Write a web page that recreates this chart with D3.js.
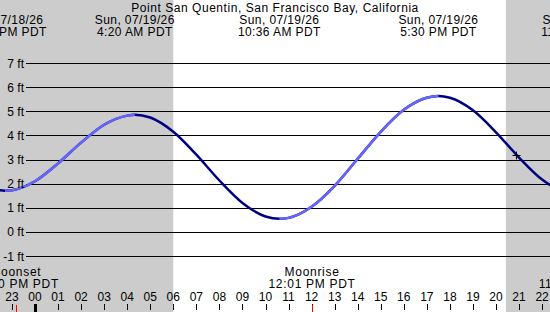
<!DOCTYPE html>
<html>
<head>
<meta charset="utf-8">
<script src="https://cdn.jsdelivr.net/npm/d3@7"></script>
<style>
  html, body { margin: 0; padding: 0; background: #fff; }
  svg { display: block; }
  text { font-family: "Liberation Sans", Arial, sans-serif; font-size: 12px; fill: #000; }
  .title { letter-spacing: 0.55px; }
  .ext text { letter-spacing: 0.4px; }
  .moon text { letter-spacing: 0.7px; }
</style>
</head>
<body>
<div id="chart"></div>
<script>
// dati (ore relative alla mezzanotte del 19/07, piedi)
const hours = [-2, -1, 0, 1, 2, 3, 4, 5, 6, 7, 8, 9, 10, 11, 12, 13, 14, 15, 16, 17, 18, 19, 20, 21, 22, 23];
const heights = [1.82, 1.75, 2.12, 2.86, 3.72, 4.46, 4.84, 4.76, 4.17, 3.22, 2.15, 1.22, 0.66, 0.60, 1.06, 1.93, 3.05, 4.17, 5.08, 5.58, 5.58, 5.06, 4.15, 3.10, 2.19, 1.67];

// estremi di marea
const extremeHours = [-1.3, 4.33, 10.6, 17.5, 23.75];
const extremeHeights = [1.73, 4.88, 0.56, 5.65, 1.6];
const extremeDates = ["Sat, 07/18/26", "Sun, 07/19/26", "Sun, 07/19/26", "Sun, 07/19/26", "Sun, 07/19/26"];
const extremeTimes = ["10:42 PM PDT", "4:20 AM PDT", "10:36 AM PDT", "5:30 PM PDT", "11:45 PM PDT"];

// luna
const moonHours = [-0.83, 12.02, 23.72];
const moonNames = ["Moonset", "Moonrise", "Moonset"];
const moonTimes = ["11:10 PM PDT", "12:01 PM PDT", "11:43 PM PDT"];

// sole (zone grigie = notte)
const sunrise = 6.0;
const sunset = 20.43;

const nowHour = 20.88;
const nowHeight = 3.19;

const feetTicks = [-1, 0, 1, 2, 3, 4, 5, 6, 7];
const hourTicks = d3.range(-1, 23);

const width = 550;
const height = 312;

const svg = d3.select("#chart")
    .append("svg")
    .attr("width", width)
    .attr("height", height);

const x = d3.scaleLinear().domain([0, 22]).range([35, 35 + 22 * 23.05]);
const y = d3.scaleLinear().domain([-1, 7]).range([256.5, 63.5]);

// notte
svg.append("rect").attr("x", 0).attr("y", 0)
    .attr("width", x(sunrise)).attr("height", height).attr("fill", "#cccccc");
svg.append("rect").attr("x", x(sunset)).attr("y", 0)
    .attr("width", width - x(sunset)).attr("height", height).attr("fill", "#cccccc");

// linee della griglia
svg.selectAll(".grid")
    .data(feetTicks)
    .join("line")
    .attr("class", "grid")
    .attr("x1", 26).attr("x2", width)
    .attr("y1", d => Math.round(y(d) - 0.5) + 0.5)
    .attr("y2", d => Math.round(y(d) - 0.5) + 0.5)
    .attr("stroke", "#000")
    .attr("stroke-width", 1);

// curva della marea
const points = hours.map((h, i) => [h, heights[i]]);
extremeHours.forEach((h, i) => points.push([h, extremeHeights[i]]));
points.sort((a, b) => a[0] - b[0]);

const line = d3.line()
    .x(d => x(d[0]))
    .y(d => y(d[1]))
    .curve(d3.curveMonotoneX);

// tratti in salita: clip
const defs = svg.append("defs");
const rising = [];
for (let i = 0; i < extremeHours.length - 1; i++) {
    if (extremeHeights[i + 1] > extremeHeights[i]) rising.push([extremeHours[i], extremeHours[i + 1]]);
}
const clip = defs.append("clipPath").attr("id", "risingClip");
clip.selectAll("rect")
    .data(rising)
    .join("rect")
    .attr("x", d => x(d[0]))
    .attr("y", 0)
    .attr("width", d => x(d[1]) - x(d[0]))
    .attr("height", height);

svg.append("path")
    .datum(points)
    .attr("d", line)
    .attr("fill", "none")
    .attr("stroke", "#000080")
    .attr("stroke-width", 2.5);

svg.append("path")
    .datum(points)
    .attr("d", line)
    .attr("fill", "none")
    .attr("stroke", "#6666ff")
    .attr("stroke-width", 2.5)
    .attr("clip-path", "url(#risingClip)");

// ora attuale
const cx = Math.round(x(nowHour)) + 0.5;
const cy = Math.round(y(nowHeight)) + 0.5;
svg.append("path")
    .attr("d", `M${cx - 4},${cy}H${cx + 4}M${cx},${cy - 4}V${cy + 4}`)
    .attr("stroke", "#000")
    .attr("stroke-width", 1);

// etichette asse y
svg.selectAll(".ylab")
    .data(feetTicks)
    .join("text")
    .attr("class", "ylab")
    .attr("x", 24)
    .attr("y", d => y(d) + 4)
    .attr("text-anchor", "end")
    .text(d => d + " ft");

// titolo
svg.append("text")
    .attr("class", "title")
    .attr("x", width / 2).attr("y", 12)
    .attr("text-anchor", "middle")
    .text("Point San Quentin, San Francisco Bay, California");

// etichette estremi
const ext = svg.selectAll(".ext")
    .data(extremeHours.map((h, i) => ({ h, date: extremeDates[i], time: extremeTimes[i] })))
    .join("g")
    .attr("class", "ext");
ext.append("text")
    .attr("x", d => x(d.h)).attr("y", 24)
    .attr("text-anchor", "middle")
    .text(d => d.date);
ext.append("text")
    .attr("x", d => x(d.h)).attr("y", 36)
    .attr("text-anchor", "middle")
    .text(d => d.time);

// etichette luna
const moon = svg.selectAll(".moon")
    .data(moonHours.map((h, i) => ({ h, name: moonNames[i], time: moonTimes[i] })))
    .join("g")
    .attr("class", "moon");
moon.append("text")
    .attr("x", d => x(d.h)).attr("y", 276)
    .attr("text-anchor", "middle")
    .text(d => d.name);
moon.append("text")
    .attr("x", d => x(d.h)).attr("y", 288)
    .attr("text-anchor", "middle")
    .text(d => d.time);

// asse delle ore
svg.selectAll(".hlab")
    .data(hourTicks)
    .join("text")
    .attr("class", "hlab")
    .attr("x", d => x(d))
    .attr("y", 301)
    .attr("text-anchor", "middle")
    .text(d => d3.format("02")((d + 24) % 24));

svg.selectAll(".htick")
    .data(hourTicks)
    .join("line")
    .attr("class", "htick")
    .attr("x1", d => Math.round(x(d)) + 0.5)
    .attr("x2", d => Math.round(x(d)) + 0.5)
    .attr("y1", 304)
    .attr("y2", d => d === 0 ? 312 : 310)
    .attr("stroke", "#000")
    .attr("stroke-width", d => d === 0 ? 3 : 1);

svg.selectAll(".mtick")
    .data(moonHours)
    .join("line")
    .attr("class", "mtick")
    .attr("x1", d => Math.round(x(d)) + 0.5)
    .attr("x2", d => Math.round(x(d)) + 0.5)
    .attr("y1", 305)
    .attr("y2", 312)
    .attr("stroke", "#ff0000")
    .attr("stroke-width", 1);
</script>
</body>
</html>
